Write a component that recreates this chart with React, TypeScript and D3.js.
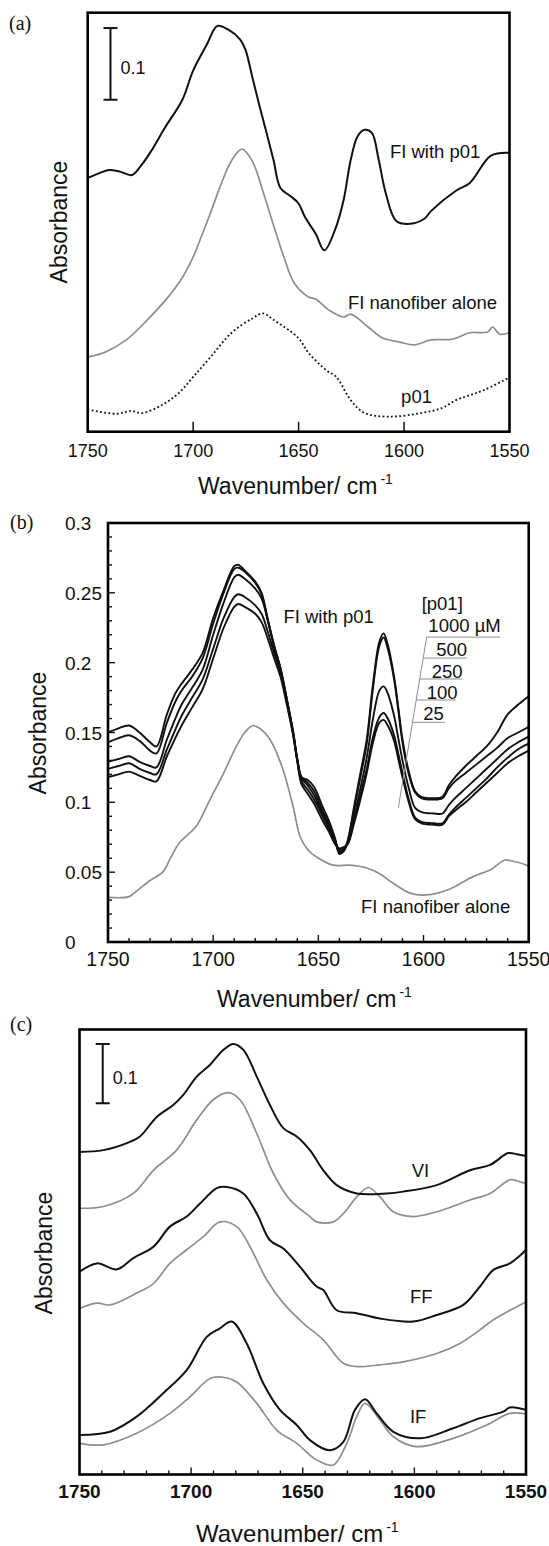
import React from "react";
import * as d3 from "d3";

type P = [number, number];

// ---------- shared axis data ----------
const xTickValues = [1750, 1700, 1650, 1600, 1550];
const xTickLabels = ["1750", "1700", "1650", "1600", "1550"];
const xInnerMajor = [1700, 1650, 1600];
const xMinorTicks = [1740, 1730, 1720, 1710, 1690, 1680, 1670, 1660, 1640, 1630, 1620, 1610, 1590, 1580, 1570, 1560];
const bYTickValues = [0, 0.05, 0.1, 0.15, 0.2, 0.25, 0.3];
const bYTickLabels = ["0", "0.05", "0.1", "0.15", "0.2", "0.25", "0.3"];
const bYMinorTicks = [0.01, 0.02, 0.03, 0.04, 0.06, 0.07, 0.08, 0.09, 0.11, 0.12, 0.13, 0.14, 0.16, 0.17, 0.18, 0.19, 0.21, 0.22, 0.23, 0.24, 0.26, 0.27, 0.28, 0.29];

// ---------- panel (a) ----------
const aWithP01: P[] = [[1750, 0.354], [1745, 0.36], [1740, 0.365], [1735, 0.363], [1729, 0.358], [1725, 0.37], [1720, 0.391], [1713.4, 0.424], [1705.1, 0.463], [1700.1, 0.503], [1693.5, 0.54], [1688.5, 0.566], [1683.5, 0.561], [1677.7, 0.547], [1675.2, 0.533], [1671.9, 0.494], [1668.5, 0.454], [1665.2, 0.417], [1661.9, 0.379], [1658.6, 0.34], [1653.6, 0.328], [1650.2, 0.319], [1646.9, 0.299], [1641.9, 0.276], [1637.8, 0.253], [1632.8, 0.281], [1628.6, 0.324], [1625.3, 0.379], [1622, 0.412], [1618.7, 0.421], [1615.3, 0.417], [1612, 0.379], [1608.7, 0.333], [1603.7, 0.294], [1597, 0.29], [1590.4, 0.297], [1587.1, 0.308], [1575.4, 0.336], [1568.8, 0.347], [1558.8, 0.385], [1550, 0.389]];
const aNanoAlone: P[] = [[1750, 0.104], [1741.7, 0.111], [1731.7, 0.128], [1721.7, 0.156], [1711.8, 0.188], [1705.1, 0.215], [1700.1, 0.243], [1696.8, 0.267], [1691.8, 0.305], [1686.8, 0.345], [1681.8, 0.378], [1676.8, 0.394], [1671.9, 0.377], [1666.9, 0.335], [1661.9, 0.288], [1656.9, 0.243], [1652, 0.207], [1645.3, 0.188], [1641.9, 0.185], [1635.3, 0.169], [1628.6, 0.16], [1625.3, 0.164], [1617, 0.146], [1610.4, 0.131], [1602, 0.125], [1595.4, 0.121], [1587.1, 0.128], [1577.1, 0.129], [1568.8, 0.138], [1560.5, 0.139], [1558, 0.146], [1554.7, 0.136], [1550, 0.138]];
const aP01: P[] = [[1750, 0.031], [1736.7, 0.025], [1729.2, 0.029], [1724.2, 0.026], [1714.3, 0.038], [1706.8, 0.054], [1700.1, 0.076], [1691.8, 0.104], [1681.8, 0.138], [1671.9, 0.158], [1666.9, 0.165], [1661.9, 0.156], [1650.2, 0.131], [1645.3, 0.11], [1637, 0.086], [1632, 0.076], [1625.3, 0.044], [1618.7, 0.026], [1607, 0.021], [1592, 0.026], [1582.1, 0.033], [1575.4, 0.044], [1568.8, 0.051], [1562.1, 0.058], [1550.5, 0.075]];

// ---------- panel (b) ----------
const bWavenumbers = [
  1750, 1745, 1740, 1735, 1730, 1727, 1722, 1718, 1715, 1710,
  1705, 1700, 1695, 1690, 1688, 1685, 1680, 1677, 1674, 1671,
  1668, 1665, 1662, 1660, 1658, 1655, 1652, 1648, 1645, 1642,
  1640, 1638, 1636, 1633, 1630, 1627, 1624, 1621, 1619, 1617,
  1614, 1612, 1610, 1607, 1604, 1601, 1595, 1591, 1588, 1585,
  1580, 1575, 1570, 1565, 1560, 1555, 1550];
const b1000 = [
  0.150, 0.153, 0.155, 0.150, 0.143, 0.140, 0.163, 0.178, 0.185, 0.195,
  0.207, 0.232, 0.252, 0.269, 0.270, 0.266, 0.258, 0.250, 0.230, 0.211,
  0.195, 0.173, 0.150, 0.130, 0.118, 0.116, 0.111, 0.097, 0.087, 0.074,
  0.063, 0.065, 0.073, 0.097, 0.121, 0.145, 0.185, 0.215, 0.221, 0.213,
  0.190, 0.168, 0.145, 0.122, 0.108, 0.104, 0.103, 0.104, 0.112, 0.118,
  0.126, 0.133, 0.140, 0.150, 0.163, 0.170, 0.176];
const b500 = [
  0.143, 0.146, 0.148, 0.144, 0.137, 0.135, 0.157, 0.172, 0.180, 0.190,
  0.203, 0.228, 0.250, 0.267, 0.268, 0.265, 0.257, 0.249, 0.231, 0.212,
  0.196, 0.174, 0.151, 0.131, 0.118, 0.114, 0.108, 0.094, 0.085, 0.073,
  0.064, 0.065, 0.072, 0.095, 0.118, 0.142, 0.182, 0.212, 0.218, 0.210,
  0.188, 0.166, 0.143, 0.120, 0.107, 0.103, 0.102, 0.103, 0.110, 0.115,
  0.121, 0.127, 0.133, 0.139, 0.146, 0.150, 0.154];
const b250 = [
  0.129, 0.131, 0.133, 0.129, 0.126, 0.125, 0.145, 0.160, 0.170, 0.182,
  0.195, 0.220, 0.243, 0.261, 0.263, 0.260, 0.253, 0.246, 0.230, 0.212,
  0.196, 0.174, 0.150, 0.131, 0.117, 0.112, 0.105, 0.092, 0.083, 0.072,
  0.065, 0.066, 0.071, 0.090, 0.110, 0.132, 0.160, 0.180, 0.183, 0.178,
  0.162, 0.146, 0.130, 0.110, 0.096, 0.093, 0.092, 0.092, 0.098, 0.103,
  0.110, 0.117, 0.124, 0.131, 0.138, 0.143, 0.147];
const b100 = [
  0.124, 0.126, 0.128, 0.124, 0.121, 0.120, 0.138, 0.152, 0.162, 0.175,
  0.188, 0.210, 0.232, 0.247, 0.249, 0.247, 0.241, 0.235, 0.222, 0.207,
  0.193, 0.172, 0.149, 0.130, 0.115, 0.109, 0.102, 0.090, 0.081, 0.071,
  0.066, 0.067, 0.071, 0.087, 0.105, 0.124, 0.147, 0.161, 0.164, 0.160,
  0.148, 0.135, 0.121, 0.102, 0.089, 0.086, 0.085, 0.085, 0.091, 0.096,
  0.103, 0.110, 0.117, 0.125, 0.132, 0.138, 0.142];
const b25 = [
  0.118, 0.120, 0.122, 0.119, 0.116, 0.115, 0.133, 0.146, 0.155, 0.168,
  0.181, 0.203, 0.225, 0.240, 0.242, 0.240, 0.235, 0.229, 0.217, 0.203,
  0.190, 0.170, 0.148, 0.129, 0.113, 0.106, 0.099, 0.087, 0.079, 0.070,
  0.067, 0.068, 0.070, 0.085, 0.102, 0.121, 0.143, 0.157, 0.159, 0.155,
  0.144, 0.131, 0.118, 0.100, 0.088, 0.085, 0.084, 0.084, 0.090, 0.094,
  0.100, 0.107, 0.114, 0.121, 0.128, 0.133, 0.137];
const bNanoAlone: P[] = [[1750, 0.032], [1740, 0.0325], [1736, 0.037], [1730, 0.044], [1724, 0.05], [1720, 0.061], [1716, 0.071], [1708, 0.083], [1701.5, 0.102], [1695, 0.121], [1689, 0.14], [1685, 0.15], [1681, 0.155], [1677, 0.152], [1673, 0.145], [1667.4, 0.126], [1662, 0.097], [1658.7, 0.0755], [1655, 0.066], [1651, 0.061], [1643, 0.055], [1635, 0.055], [1627, 0.053], [1621, 0.049], [1614.4, 0.042], [1606.4, 0.035], [1598.5, 0.0337], [1587.4, 0.038], [1576.3, 0.047], [1568.4, 0.0516], [1561.3, 0.0587], [1558, 0.058], [1551, 0.055], [1550, 0.054]];
const bConcLabels = ["1000 \u00b5M", "500", "250", "100", "25"];
const bConcLabelWn = [1597.7, 1594, 1596.1, 1598.5, 1600.1];
const bConcLabelAbs = [0.2216, 0.2051, 0.1889, 0.1739, 0.1586];
const bConcUnderlineAbs = [0.2183, 0.2033, 0.1883, 0.1733, 0.1573];
const bConcUnderlineEndWn = [1563.6, 1579.3, 1581.7, 1584.5, 1589.8];

// ---------- panel (c) ----------
const cVIpeptide: P[] = [[1750, 0.544], [1739.3, 0.547], [1727.4, 0.561], [1722.9, 0.57], [1715.4, 0.603], [1708, 0.623], [1703.5, 0.64], [1697.5, 0.671], [1691.5, 0.691], [1685.6, 0.716], [1681.1, 0.726], [1676.6, 0.716], [1670.6, 0.671], [1664.7, 0.623], [1658.7, 0.584], [1652.7, 0.57], [1646.8, 0.547], [1640.8, 0.513], [1634.8, 0.488], [1625.8, 0.474], [1612.4, 0.474], [1605, 0.477], [1590, 0.488], [1575.1, 0.513], [1566.1, 0.522], [1557.9, 0.542], [1554, 0.54], [1550, 0.537]];
const cVIalone: P[] = [[1750, 0.449], [1739.3, 0.452], [1725.9, 0.474], [1716.9, 0.513], [1706.5, 0.547], [1697.5, 0.598], [1690.1, 0.632], [1683.4, 0.644], [1678.1, 0.632], [1670.6, 0.575], [1663.2, 0.508], [1655.7, 0.463], [1646.8, 0.435], [1643.8, 0.426], [1636.3, 0.426], [1631.8, 0.44], [1625.8, 0.468], [1620.6, 0.484], [1615.4, 0.468], [1609.4, 0.443], [1600.5, 0.435], [1590, 0.443], [1575.1, 0.463], [1566.1, 0.474], [1557.2, 0.497], [1553, 0.494], [1550, 0.491]];
const cFFpeptide: P[] = [[1750, 0.342], [1742.3, 0.356], [1733.3, 0.346], [1725.9, 0.365], [1716.9, 0.384], [1709.5, 0.418], [1702, 0.435], [1696, 0.457], [1688.5, 0.483], [1684.1, 0.485], [1676.6, 0.474], [1670.6, 0.44], [1664.7, 0.395], [1658.7, 0.381], [1651.2, 0.35], [1643.8, 0.317], [1640.8, 0.311], [1634.8, 0.277], [1625.8, 0.272], [1615.4, 0.263], [1600.5, 0.258], [1590, 0.269], [1578.1, 0.286], [1570.6, 0.317], [1564.6, 0.345], [1557.2, 0.356], [1553, 0.368], [1550, 0.379]];
const cFFalone: P[] = [[1750, 0.28], [1742.3, 0.289], [1736.3, 0.286], [1724.4, 0.306], [1716.9, 0.322], [1709.5, 0.356], [1702, 0.379], [1694.5, 0.401], [1687.1, 0.426], [1679.6, 0.418], [1673.6, 0.384], [1666.1, 0.328], [1658.7, 0.289], [1649.7, 0.255], [1640.8, 0.227], [1631.8, 0.1875], [1625.8, 0.182], [1615.4, 0.185], [1605, 0.19], [1590, 0.204], [1579.6, 0.221], [1570.6, 0.244], [1564.6, 0.261], [1557.2, 0.277], [1550, 0.291]];
const cIFpeptide: P[] = [[1750, 0.0666], [1736.3, 0.072], [1724.4, 0.0975], [1712.5, 0.137], [1702, 0.176], [1693, 0.232], [1687.1, 0.2465], [1681.8, 0.258], [1675.1, 0.221], [1667.7, 0.154], [1660.2, 0.109], [1652.7, 0.0835], [1646.8, 0.058], [1637.8, 0.041], [1631.8, 0.055], [1626.6, 0.109], [1622.1, 0.127], [1616.9, 0.103], [1609.4, 0.072], [1597.5, 0.061], [1582.6, 0.078], [1570.6, 0.095], [1560.2, 0.106], [1557.2, 0.113], [1550, 0.109]];
const cIFalone: P[] = [[1750, 0.0526], [1739.3, 0.05], [1724.4, 0.0695], [1709.5, 0.103], [1700.5, 0.131], [1691.5, 0.162], [1685.6, 0.164], [1679.6, 0.156], [1670.6, 0.12], [1661.7, 0.075], [1652.7, 0.0526], [1643.8, 0.0245], [1636.3, 0.016], [1630.3, 0.0526], [1625.8, 0.0975], [1622.1, 0.12], [1615.4, 0.092], [1609.4, 0.0637], [1599, 0.047], [1582.6, 0.061], [1567.6, 0.0835], [1557.2, 0.103], [1550, 0.102]];

// ---------- style ----------
const SANS = "'Liberation Sans', Arial, Helvetica, sans-serif";
const SERIF = "'Liberation Serif', 'Times New Roman', serif";
const INK = "#111";
const GRAY = "#8e8e8e";

function lineGen(x: d3.ScaleLinear<number, number>, y: d3.ScaleLinear<number, number>) {
  return d3
    .line<P>()
    .x((d) => x(d[0]))
    .y((d) => y(d[1]))
    .curve(d3.curveCatmullRom.alpha(0.5));
}

function Title({ x, y, size }: { x: number; y: number; size: number }) {
  return (
    <text x={x} y={y} fontFamily={SANS} fontSize={size} fill={INK}>
      Wavenumber/ cm
      <tspan dx={3} dy={-10} fontSize={14}>-1</tspan>
    </text>
  );
}

function YTitle({ x, y }: { x: number; y: number }) {
  return (
    <text transform={`translate(${x},${y}) rotate(-90)`} textAnchor="middle" fontFamily={SANS} fontSize={23} fill={INK}>
      Absorbance
    </text>
  );
}

function ScaleBar({ x, y, w, v0, v1 }: { x: any; y: any; w: number; v0: number; v1: number }) {
  const px = x(w);
  const top = y(v1);
  const bot = y(v0);
  return (
    <g stroke={INK} strokeWidth={2}>
      <line x1={px} x2={px} y1={top} y2={bot} />
      <line x1={px - 7} x2={px + 7} y1={top} y2={top} />
      <line x1={px - 7} x2={px + 7} y1={bot} y2={bot} />
      <text x={px + 10} y={(top + bot) / 2 + 10} stroke="none" fill={INK} fontFamily={SANS} fontSize={18}>0.1</text>
    </g>
  );
}

export default function App() {
  // scales
  const xA = d3.scaleLinear().domain([1750, 1550]).range([87.7, 509.5]);
  const yA = d3.scaleLinear().domain([0, 0.5844]).range([431.7, 12.7]);
  const xB = d3.scaleLinear().domain([1750, 1550]).range([108, 528.7]);
  const yB = d3.scaleLinear().domain([0, 0.3]).range([942, 523]);
  const xC = d3.scaleLinear().domain([1750, 1550]).range([79.5, 526]);
  const yC = d3.scaleLinear().domain([0, 0.7504]).range([1474.5, 1029.5]);

  const lA = lineGen(xA, yA);
  const lB = lineGen(xB, yB);
  const lC = lineGen(xC, yC);

  const bSeries = [b1000, b500, b250, b100, b25].map((vals) =>
    bWavenumbers.map((w, i) => [w, vals[i]] as P)
  );

  // leader line for concentration legend in (b)
  const leadTop: P = [1598.5, 0.2183];
  const leadBot: P = [1612, 0.096];
  const leadX = (v: number) =>
    xB(leadTop[0] + ((v - leadTop[1]) / (leadBot[1] - leadTop[1])) * (leadBot[0] - leadTop[0]));

  return (
    <svg
      width={549}
      height={1546}
      style={{ position: "absolute", left: 0, top: 0, background: "#fff" }}
    >
      <rect x={0} y={0} width={549} height={1546} fill="#fff" />

      {/* ================= (a) ================= */}
      <text x={9} y={30} fontFamily={SERIF} fontSize={20} fill={INK}>(a)</text>
      <path d={lA(aNanoAlone) || ""} fill="none" stroke={GRAY} strokeWidth={1.7} />
      <path d={lA(aP01) || ""} fill="none" stroke={INK} strokeWidth={1.8} strokeDasharray="1.8 2.4" />
      <path d={lA(aWithP01) || ""} fill="none" stroke={INK} strokeWidth={2} />
      <ScaleBar x={xA} y={yA} w={1739.2} v0={0.463} v1={0.563} />
      <text x={xA(1606.7)} y={yA(0.382)} fontFamily={SANS} fontSize={18.5} fill={INK}>FI with p01</text>
      <text x={xA(1626.6)} y={yA(0.1715)} fontFamily={SANS} fontSize={18.5} fill={INK}>FI nanofiber alone</text>
      <text x={xA(1601.4)} y={yA(0.0404)} fontFamily={SANS} fontSize={18.5} fill={INK}>p01</text>
      <g stroke={INK} strokeWidth={1.5}>
        {xInnerMajor.map((t) => (
          <line key={t} x1={xA(t)} x2={xA(t)} y1={yA(0)} y2={yA(0) - 10} />
        ))}
      </g>
      <rect x={xA(1750)} y={yA(0.5844)} width={xA(1550) - xA(1750)} height={yA(0) - yA(0.5844)} fill="none" stroke="#000" strokeWidth={2.6} />
      {xTickValues.map((t, i) => (
        <text key={t} x={xA(t)} y={457} textAnchor="middle" fontFamily={SANS} fontSize={18} fill={INK}>{xTickLabels[i]}</text>
      ))}
      <Title x={198} y={494} size={23} />
      <YTitle x={66.5} y={222} />

      {/* ================= (b) ================= */}
      <text x={10} y={529} fontFamily={SERIF} fontSize={20} fill={INK}>(b)</text>
      <path d={lB(bNanoAlone) || ""} fill="none" stroke={GRAY} strokeWidth={1.7} />
      {bSeries.map((s, i) => (
        <path key={i} d={lB(s) || ""} fill="none" stroke={INK} strokeWidth={1.9} />
      ))}
      {/* concentration legend */}
      <g stroke={GRAY} strokeWidth={1}>
        <line x1={xB(leadTop[0])} y1={yB(leadTop[1])} x2={xB(leadBot[0])} y2={yB(leadBot[1])} />
        {bConcUnderlineAbs.map((v, i) => (
          <line key={i} x1={leadX(v)} x2={xB(bConcUnderlineEndWn[i])} y1={yB(v)} y2={yB(v)} />
        ))}
      </g>
      <text x={xB(1600.9)} y={yB(0.2378)} fontFamily={SANS} fontSize={18.5} fill={INK}>[p01]</text>
      {bConcLabels.map((s, i) => (
        <text key={s} x={xB(bConcLabelWn[i])} y={yB(bConcLabelAbs[i])} fontFamily={SANS} fontSize={18.5} fill={INK}>{s}</text>
      ))}
      <text x={xB(1666.6)} y={yB(0.2283)} fontFamily={SANS} fontSize={18.5} fill={INK}>FI with p01</text>
      <text x={xB(1629.7)} y={yB(0.0208)} fontFamily={SANS} fontSize={18.5} fill={INK}>FI nanofiber alone</text>
      <g stroke={INK} strokeWidth={1.4}>
        {xInnerMajor.map((t) => (
          <line key={"M" + t} x1={xB(t)} x2={xB(t)} y1={yB(0)} y2={yB(0) - 7} />
        ))}
        {xMinorTicks.map((t) => (
          <line key={"m" + t} x1={xB(t)} x2={xB(t)} y1={yB(0)} y2={yB(0) - 4} />
        ))}
        {bYTickValues.map((t) => (
          <line key={"Y" + t} x1={xB(1750)} x2={xB(1750) + 7} y1={yB(t)} y2={yB(t)} />
        ))}
        {bYMinorTicks.map((t) => (
          <line key={"y" + t} x1={xB(1750)} x2={xB(1750) + 4} y1={yB(t)} y2={yB(t)} />
        ))}
      </g>
      <rect x={xB(1750)} y={yB(0.3)} width={xB(1550) - xB(1750)} height={yB(0) - yB(0.3)} fill="none" stroke="#000" strokeWidth={2.6} />
      {xTickValues.map((t, i) => (
        <text key={t} x={xB(t)} y={966} textAnchor="middle" fontFamily={SANS} fontSize={19.5} fill={INK}>{xTickLabels[i]}</text>
      ))}
      {bYTickValues.map((t, i) => (
        <text key={t} x={65} y={yB(t) + 7} fontFamily={SANS} fontSize={19} fill={INK}>{bYTickLabels[i]}</text>
      ))}
      <Title x={217} y={1007} size={23} />
      <YTitle x={46} y={733} />

      {/* ================= (c) ================= */}
      <text x={10} y={1031} fontFamily={SERIF} fontSize={20} fill={INK}>(c)</text>
      <path d={lC(cVIalone) || ""} fill="none" stroke={GRAY} strokeWidth={1.7} />
      <path d={lC(cFFalone) || ""} fill="none" stroke={GRAY} strokeWidth={1.7} />
      <path d={lC(cIFalone) || ""} fill="none" stroke={GRAY} strokeWidth={1.7} />
      <path d={lC(cVIpeptide) || ""} fill="none" stroke={INK} strokeWidth={2} />
      <path d={lC(cFFpeptide) || ""} fill="none" stroke={INK} strokeWidth={2} />
      <path d={lC(cIFpeptide) || ""} fill="none" stroke={INK} strokeWidth={2} />
      <ScaleBar x={xC} y={yC} w={1739.6} v0={0.626} v1={0.726} />
      <text x={xC(1601.2)} y={yC(0.502)} fontFamily={SANS} fontSize={18.5} fill={INK}>VI</text>
      <text x={xC(1602)} y={yC(0.2887)} fontFamily={SANS} fontSize={18.5} fill={INK}>FF</text>
      <text x={xC(1602)} y={yC(0.0863)} fontFamily={SANS} fontSize={18.5} fill={INK}>IF</text>
      <g stroke={INK} strokeWidth={1.4}>
        {xInnerMajor.map((t) => (
          <line key={"M" + t} x1={xC(t)} x2={xC(t)} y1={yC(0)} y2={yC(0) - 7} />
        ))}
        {xMinorTicks.map((t) => (
          <line key={"m" + t} x1={xC(t)} x2={xC(t)} y1={yC(0)} y2={yC(0) - 4} />
        ))}
      </g>
      <rect x={xC(1750)} y={yC(0.7504)} width={xC(1550) - xC(1750)} height={yC(0) - yC(0.7504)} fill="none" stroke="#000" strokeWidth={2.6} />
      {xTickValues.map((t, i) => (
        <text key={t} x={xC(t)} y={1498} textAnchor="middle" fontFamily={SANS} fontSize={19} fontWeight="bold" fill={INK}>{xTickLabels[i]}</text>
      ))}
      <Title x={196} y={1542} size={24} />
      <YTitle x={52} y={1253} />
    </svg>
  );
}
